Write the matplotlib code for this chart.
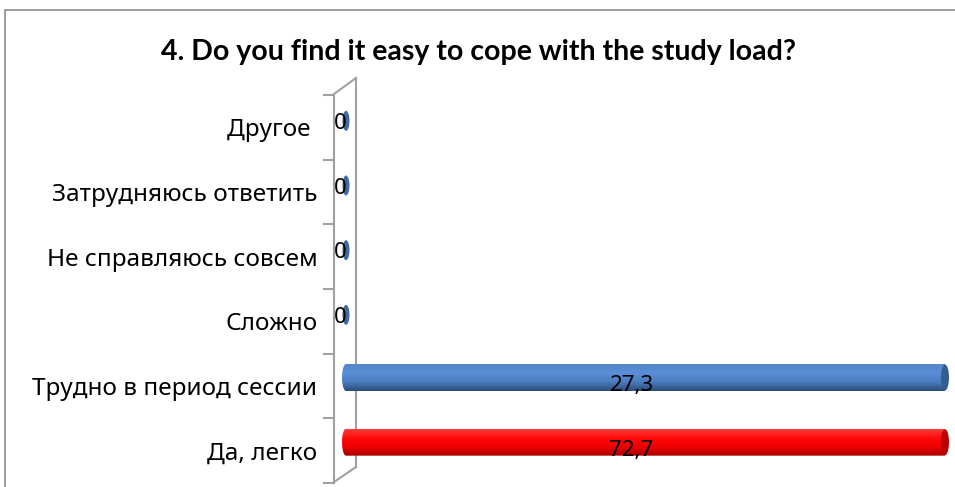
import matplotlib
matplotlib.use("Agg")
import matplotlib.pyplot as plt
import numpy as np
from matplotlib.path import Path
from matplotlib.patches import PathPatch, Ellipse, Rectangle
from matplotlib.lines import Line2D
from matplotlib.colors import LinearSegmentedColormap

plt.rcParams['font.family'] = ['Noto Sans', 'DejaVu Sans']

#%% Datos
categorias = ["Да, легко", "Трудно в период сессии", "Сложно",
              "Не справляюсь совсем", "Затрудняюсь ответить", "Другое "]
valores = [72.7, 27.3, 0, 0, 0, 0]
etiquetas = ["72,7", "27,3", "0", "0", "0", "0"]
titulo = "4. Do you find it easy to cope with the study load?"
eje_max = 27.3  # el eje corta las barras (como en el Excel original)

W, H = 955, 487
fig = plt.figure(figsize=(W / 100, H / 100), dpi=100)

def fx(px):
    return px / W

def fy(py):
    return 1 - py / H

# marco del grafico
fig.add_artist(Rectangle((fx(5), fy(490)), fx(960) - fx(5), fy(10) - fy(490),
                         transform=fig.transFigure, fill=False,
                         edgecolor="#8c8c8c", lw=1.2))

px_x = (945 - 346) / eje_max      # px por unidad en x
px_y = (483 - 95) / len(categorias)  # px por categoria
rx = 4 / px_x
hh = 13.5 / px_y
off = 8.5 / px_y

ax = fig.add_axes([fx(342), fy(483), fx(945) - fx(342), fy(95) - fy(483)])
ax.patch.set_alpha(0)

azul = LinearSegmentedColormap.from_list("azul", ["#2c4c78", "#4a7cbf", "#5a8ed6", "#5586c8"])
rojo = LinearSegmentedColormap.from_list("rojo", ["#a80000", "#ee0000", "#ff0a0a", "#ff3a3a"])
colores = [rojo, azul, azul, azul, azul, azul]
tapas = ["#b80000", "#345d92", "#345d92", "#345d92", "#345d92", "#345d92"]

grad = np.linspace(0, 1, 64).reshape(-1, 1)

for i, (v, et) in enumerate(zip(valores, etiquetas)):
    yc = i + off
    w = min(v, eje_max)
    if w > 0:
        t = np.linspace(np.pi / 2, 3 * np.pi / 2, 40)
        left = np.column_stack([rx * np.cos(t), yc + hh * np.sin(t)])
        t2 = np.linspace(-np.pi / 2, np.pi / 2, 40)
        right = np.column_stack([w + rx * np.cos(t2), yc + hh * np.sin(t2)])
        verts = np.vstack([left, right, left[:1]])
        patch = PathPatch(Path(verts), facecolor="none", edgecolor="none")
        ax.add_patch(patch)
        im = ax.imshow(grad, cmap=colores[i], origin="lower", aspect="auto",
                       extent=[-rx, w + rx, yc - hh, yc + hh])
        im.set_clip_path(patch)
        ax.add_patch(Ellipse((w, yc), 2 * rx, 2 * hh * 0.96, facecolor=tapas[i],
                             edgecolor="none", clip_on=False))
        ax.annotate(et, (w / 2, i), xytext=(-14, 0), textcoords="offset pixels",
                    ha="center", va="center", fontsize=16, color="black")
    else:
        ax.add_patch(Ellipse((0, yc - 2 / px_y), 7 / px_x, 20 / px_y, facecolor="#3f6aa3",
                             edgecolor="none", clip_on=False))
        ax.annotate(et, (0, i), xytext=(-6, 4), textcoords="offset pixels",
                    ha="center", va="center", fontsize=16, color="black")
ax.set_xlim(-rx, eje_max)
ax.set_ylim(-0.5, len(categorias) - 0.5)

# eje vertical con pared 3D
for s in ["top", "right", "bottom"]:
    ax.spines[s].set_visible(False)
ax.spines["left"].set_position(("outward", 8 * 0.72))
ax.spines["left"].set_color("#a0a0a0")
ax.spines["left"].set_linewidth(1.5)
ax.set_xticks([])
ax.set_yticks(range(len(categorias)))
ax.set_yticklabels(categorias, fontsize=17.5)
ax.set_yticks(np.arange(-0.5, len(categorias)), minor=True)
ax.tick_params(axis="y", which="major", length=0, pad=12)
ax.tick_params(axis="y", which="minor", length=8, width=1.5, color="#a0a0a0")

gris = "#a0a0a0"
for (x0, y0), (x1, y1) in [((334, 94), (356, 78)), ((356, 78), (356, 467)),
                           ((334, 482), (356, 467))]:
    fig.add_artist(Line2D([fx(x0), fx(x1)], [fy(y0), fy(y1)], color=gris, lw=1.5,
                          transform=fig.transFigure, zorder=-1))

fig.text(fx(478), fy(52), titulo, ha="center", va="center", fontsize=20.5,
         fontweight="bold", family=["Lato", "DejaVu Sans"])

fig.savefig("out.png", dpi=100)
